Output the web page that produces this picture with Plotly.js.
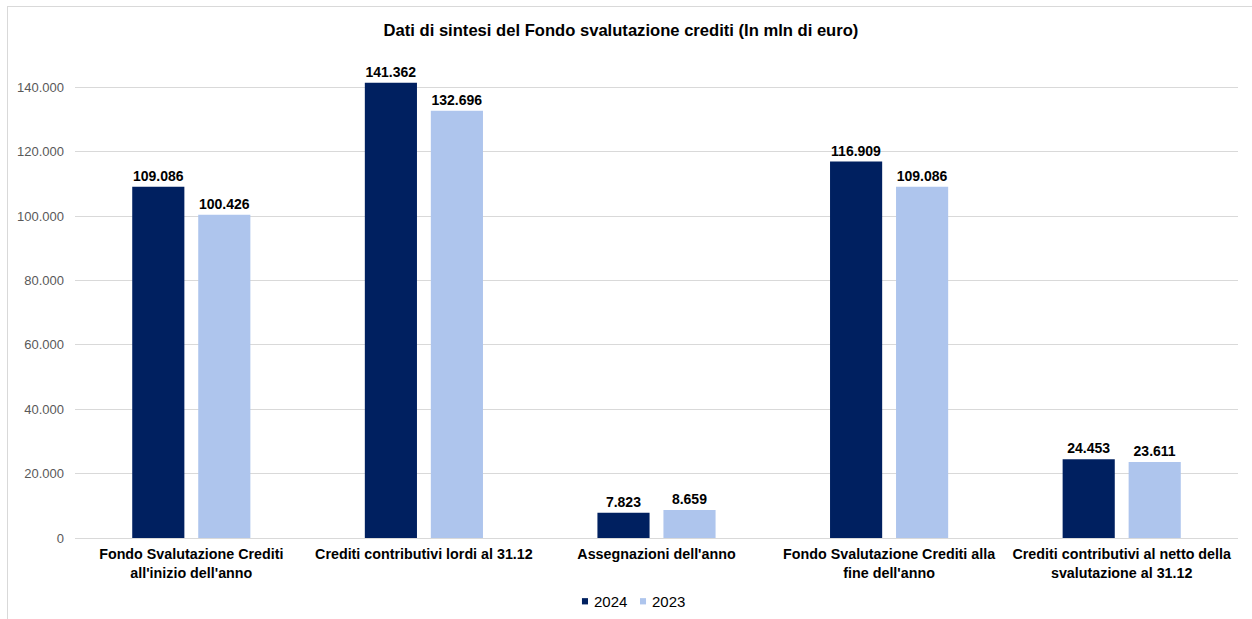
<!DOCTYPE html>
<html>
<head>
<meta charset="utf-8">
<script src="https://cdn.plot.ly/plotly-3.0.1.min.js"></script>
<style>
  html, body { margin: 0; padding: 0; background: #fff; overflow: hidden; }
  #wrap { position: relative; width: 1252px; height: 619px; }
  #chart { width: 1252px; height: 619px; }
  #frame { position: absolute; left: 7px; top: 6px; width: 1260px; height: 630px;
           border: 1px solid #d9d9d9; pointer-events: none; }
</style>
</head>
<body>
<div id="wrap">
  <div id="chart"></div>
  <div id="frame"></div>
</div>
<script>
// Categorie del Fondo svalutazione crediti (valori in milioni di euro)
const categories = [
  "Fondo Svalutazione Crediti<br>all'inizio dell'anno",
  "Crediti contributivi lordi al 31.12",
  "Assegnazioni dell'anno",
  "Fondo Svalutazione Crediti alla<br>fine dell'anno",
  "Crediti contributivi al netto della<br>svalutazione al 31.12"
];
const seriesNames = ['2024', '2023'];
const seriesColors = ['#002060', '#AEC5ED'];
const values2024 = [109086, 141362, 7823, 116909, 24453];
const values2023 = [100426, 132696, 8659, 109086, 23611];
const tickValues = [0, 20000, 40000, 60000, 80000, 100000, 120000, 140000];

const FONT = 'Liberation Sans, Arial, sans-serif';
const labelFont = { family: FONT, size: 14, color: '#000000', weight: 'bold' };

const seriesValues = [values2024, values2023];
const traces = seriesNames.map((name, i) => ({
  type: 'bar', name: name, x: categories, y: seriesValues[i],
  marker: { color: seriesColors[i] },
  texttemplate: '%{y:,d}', textposition: 'outside', cliponaxis: false,
  textfont: labelFont, hoverinfo: 'none', showlegend: false
}));

// Legenda compatta sotto il grafico: quadratino colorato + etichetta
const shapes = [];
const annotations = [];
const legendStart = 0.4359;   // posizione del primo quadratino (coordinate paper)
const legendStep = 0.0499;    // distanza tra due voci
const swatchW = 0.0052;
seriesNames.forEach((name, i) => {
  const x0 = legendStart + i * legendStep;
  shapes.push({
    type: 'rect', xref: 'paper', yref: 'paper',
    x0: x0, x1: x0 + swatchW, y0: -0.1375, y1: -0.1245,
    fillcolor: seriesColors[i], line: { width: 0 }
  });
  annotations.push({
    xref: 'paper', yref: 'paper', x: x0 + 0.0086, y: -0.131,
    xanchor: 'left', yanchor: 'middle', showarrow: false,
    text: name, font: { family: FONT, size: 15, color: '#000000' }
  });
});

const layout = {
  width: 1252, height: 619,
  separators: ',.',
  paper_bgcolor: '#ffffff', plot_bgcolor: '#ffffff',
  margin: { l: 75, r: 14, t: 55, b: 81, autoexpand: false },
  font: { family: FONT, color: '#000000' },
  title: {
    text: 'Dati di sintesi del Fondo svalutazione crediti (In mln di euro)',
    font: { size: 16.6, weight: 'bold', color: '#000000' },
    x: 0.496, xanchor: 'center', y: 0.952, yanchor: 'middle'
  },
  barmode: 'group', bargap: 0.4325, bargroupgap: 0.21,
  xaxis: {
    type: 'category', automargin: false,
    tickfont: { size: 14.3, weight: 'bold', color: '#000000' },
    ticks: '', ticklabelstandoff: 6,
    showgrid: false, zeroline: false, showline: false
  },
  yaxis: {
    range: [0, 150000], automargin: false,
    tickvals: tickValues, tickformat: ',d',
    tickfont: { size: 13, color: '#595959' },
    ticks: '', ticklabelstandoff: 10,
    showgrid: true, gridcolor: '#d9d9d9', gridwidth: 1,
    zeroline: true, zerolinecolor: '#d9d9d9', zerolinewidth: 1,
    showline: false
  },
  showlegend: false,
  shapes: shapes,
  annotations: annotations
};

Plotly.newPlot('chart', traces, layout, { displayModeBar: false, staticPlot: true });
</script>
</body>
</html>
